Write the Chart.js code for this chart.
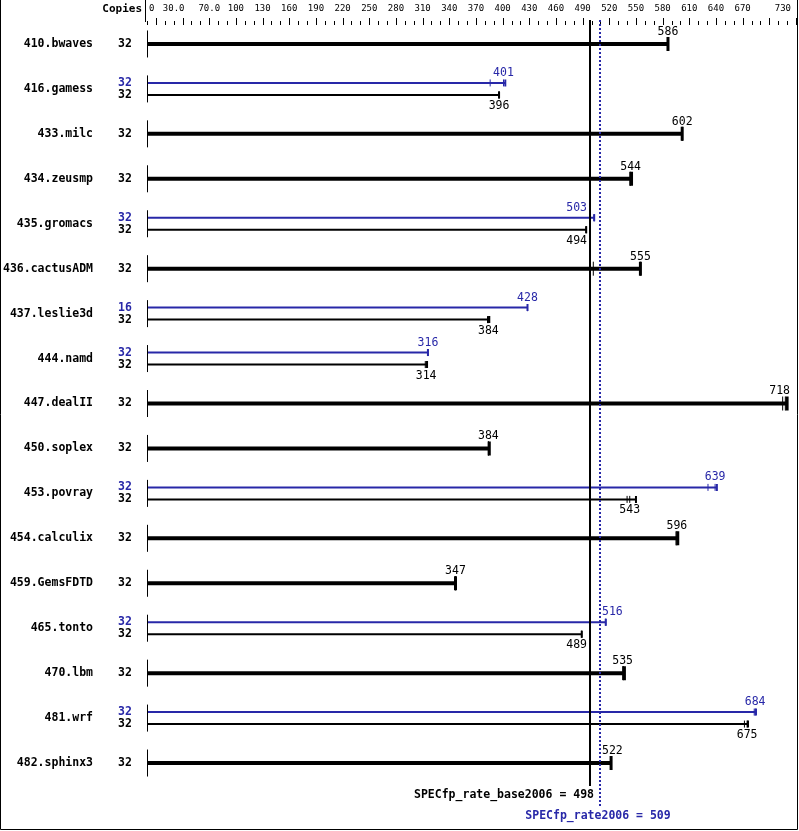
<!DOCTYPE html>
<html>
<head>
<meta charset="utf-8">
<script src="https://cdn.jsdelivr.net/npm/chart.js@4/dist/chart.umd.min.js"></script>
<style>
  body { margin: 0; background: #fff; }
  canvas { display: block; }
</style>
</head>
<body>
<canvas id="specChart" width="799" height="831"></canvas>
<script>
// benchmark rows, top to bottom
const benchmarks = ['410.bwaves', '416.gamess', '433.milc', '434.zeusmp', '435.gromacs', '436.cactusADM',
    '437.leslie3d', '444.namd', '447.dealII', '450.soplex', '453.povray', '454.calculix',
    '459.GemsFDTD', '465.tonto', '470.lbm', '481.wrf', '482.sphinx3'];

// base results (black) - copies, median ratio, individual runs
const baseCopies = [32, 32, 32, 32, 32, 32, 32, 32, 32, 32, 32, 32, 32, 32, 32, 32, 32];
const baseRatio = [586, 396, 602, 544, 494, 555, 384, 314, 718, 384, 543, 596, 347, 489, 535, 675, 522];
const baseRuns = [
    [586, 586, 586], [396, 396, 396], [602, 602, 602], [543, 544, 545], [494, 494, 494],
    [502, 555, 555], [383, 384, 385], [313, 314, 315], [715, 718, 720], [384, 384, 385],
    [540, 543, 550], [595, 596, 597], [347, 347, 347], [489, 489, 489], [535, 536, 537],
    [672, 675, 676], [522, 522, 522]
];

// peak results (blue), null where only base was reported
const peakCopies = [null, 32, null, null, 32, null, 16, 32, null, null, 32, null, null, 32, null, 32, null];
const peakRatio = [null, 401, null, null, 503, null, 428, 316, null, null, 639, null, null, 516, null, 684, null];
const peakRuns = [
    null, [386, 401, 403], null, null, [503, 503, 503], null, [428, 428, 428], [316, 316, 316],
    null, null, [631, 639, 641], null, null, [516, 516, 516], null, [683, 684, 685], null
];

// axis tick labels across the top
const tickValues = [0, 30, 70, 100, 130, 160, 190, 220, 250, 280, 310, 340, 370, 400, 430, 460, 490,
    520, 550, 580, 610, 640, 670, 730];
const tickLabels = ['0', '30.0', '70.0', '100', '130', '160', '190', '220', '250', '280', '310', '340',
    '370', '400', '430', '460', '490', '520', '550', '580', '610', '640', '670', '730'];

// overall scores
const baseScore = 498;
const peakScore = 509;

const BLUE = '#2828a8';
const PAIR_OFFSET = 0.1335;
const MONO = '"DejaVu Sans Mono", "Liberation Mono", monospace';

// one dataset per drawn bar
const bars = [];
benchmarks.forEach((name, i) => {
    if (peakRatio[i] !== null) {
        bars.push({ row: i, y: i - PAIR_OFFSET, runs: peakRuns[i], median: peakRatio[i], copies: peakCopies[i], color: BLUE, thick: false, kind: 'peak' });
        bars.push({ row: i, y: i + PAIR_OFFSET, runs: baseRuns[i], median: baseRatio[i], copies: baseCopies[i], color: '#000', thick: false, kind: 'base' });
    } else {
        bars.push({ row: i, y: i, runs: baseRuns[i], median: baseRatio[i], copies: baseCopies[i], color: '#000', thick: true, kind: 'single' });
    }
});

const datasets = bars.map(b => {
    const xs = [0, ...b.runs.slice().sort((a, c) => a - c)];
    const last = xs.length - 1;
    return {
        data: xs.map(x => ({ x: x, y: b.y })),
        borderColor: b.color,
        borderWidth: b.thick ? 4 : 2,
        borderCapStyle: 'butt',
        tension: 0,
        pointStyle: 'line',
        rotation: 90,
        pointBorderColor: b.color,
        pointRadius: ctx => ctx.dataIndex === 0 ? 0 : (b.thick ? 7 : 3.5),
        pointBorderWidth: ctx => ctx.dataIndex === last ? (b.thick ? 3 : 2) : 1,
    };
});

// text, axis, reference lines and frame
const decorations = {
    id: 'decorations',
    afterDatasetsDraw(chart) {
        const ctx = chart.ctx;
        const xs = chart.scales.x;
        const ys = chart.scales.y;
        const x0 = xs.getPixelForValue(0);
        const bx = Math.round(xs.getPixelForValue(baseScore));
        const pxs = Math.round(xs.getPixelForValue(peakScore));
        ctx.save();

        // frame
        ctx.strokeStyle = '#000';
        ctx.lineWidth = 1;
        ctx.beginPath();
        ctx.moveTo(0.5, 0); ctx.lineTo(0.5, 829.5);
        ctx.lineTo(797.5, 829.5); ctx.lineTo(797.5, 0);
        ctx.moveTo(Math.round(x0) - 1.5, 0); ctx.lineTo(Math.round(x0) - 1.5, 22);
        ctx.stroke();

        // top axis tick marks every 10
        ctx.beginPath();
        for (let v = 0; v <= 730; v += 10) {
            const px = Math.round(xs.getPixelForValue(v)) + 0.5;
            const major = (v - 10) % 30 === 0;
            ctx.moveTo(px, major ? 18 : 21);
            ctx.lineTo(px, 25);
        }
        ctx.stroke();

        ctx.fillStyle = '#000';
        ctx.font = '9px ' + MONO;
        ctx.textBaseline = 'middle';
        tickValues.forEach((v, k) => {
            const px = xs.getPixelForValue(v);
            if (k === 0) { ctx.textAlign = 'left'; ctx.fillText(tickLabels[k], px + 2, 9); }
            else if (k === tickValues.length - 1) { ctx.textAlign = 'right'; ctx.fillText(tickLabels[k], px - 5, 9); }
            else { ctx.textAlign = 'center'; ctx.fillText(tickLabels[k], px, 9); }
        });

        ctx.font = 'bold 11px ' + MONO;
        ctx.textAlign = 'right';
        ctx.fillText('Copies', 142, 9);

        // row labels and left stubs
        benchmarks.forEach((name, i) => {
            const py = ys.getPixelForValue(i);
            ctx.fillStyle = '#000';
            ctx.font = 'bold 11.5px ' + MONO;
            ctx.textAlign = 'right';
            ctx.fillText(name, 93, py);
            ctx.beginPath();
            ctx.moveTo(Math.round(x0) + 0.5, py - 13.5);
            ctx.lineTo(Math.round(x0) + 0.5, py + 13.5);
            ctx.stroke();
        });

        // copies and value labels per bar
        bars.forEach(b => {
            const py = ys.getPixelForValue(b.y);
            ctx.fillStyle = b.color;
            ctx.font = 'bold 11.5px ' + MONO;
            ctx.textAlign = 'center';
            ctx.fillText(String(b.copies), 125, py);

            ctx.font = '11.5px ' + MONO;
            const text = String(b.median);
            const w = ctx.measureText(text).width;
            let left = xs.getPixelForValue(b.median) - w / 2;
            // keep labels off the score lines
            if (left + w > bx - 2 && left < pxs + 2) {
                left = b.median < peakScore ? bx - 3 - w : pxs + 2;
            }
            left = Math.min(left, 790 - w);
            const ly = b.kind === 'base' ? py + 11 : (b.kind === 'peak' ? py - 10 : py - 12);
            ctx.textAlign = 'left';
            ctx.fillText(text, left, ly);
        });

        // base score line
        ctx.strokeStyle = '#000';
        ctx.lineWidth = 2;
        ctx.beginPath();
        ctx.moveTo(bx, 20);
        ctx.lineTo(bx, 786);
        ctx.stroke();

        // peak score dotted line
        ctx.strokeStyle = BLUE;
        ctx.setLineDash([2, 2]);
        ctx.beginPath();
        ctx.moveTo(pxs, 20);
        ctx.lineTo(pxs, 808);
        ctx.stroke();
        ctx.setLineDash([]);

        ctx.font = 'bold 11.5px ' + MONO;
        ctx.fillStyle = '#000';
        ctx.textAlign = 'right';
        ctx.fillText('SPECfp_rate_base2006 = ' + baseScore, bx + 4, 795);
        ctx.fillStyle = BLUE;
        ctx.textAlign = 'center';
        ctx.fillText('SPECfp_rate2006 = ' + peakScore, pxs - 2, 816);

        ctx.restore();
    }
};

new Chart(document.getElementById('specChart'), {
    type: 'line',
    data: { datasets: datasets },
    options: {
        responsive: false,
        animation: false,
        devicePixelRatio: 1,
        layout: { autoPadding: false, padding: { left: 147, right: 3, top: 21.5, bottom: 45.5 } },
        plugins: { legend: { display: false }, tooltip: { enabled: false } },
        scales: {
            x: { type: 'linear', min: 0, max: 730, display: false },
            y: { type: 'linear', min: -0.5, max: 16.5, reverse: true, display: false }
        }
    },
    plugins: [decorations]
});
</script>
</body>
</html>
